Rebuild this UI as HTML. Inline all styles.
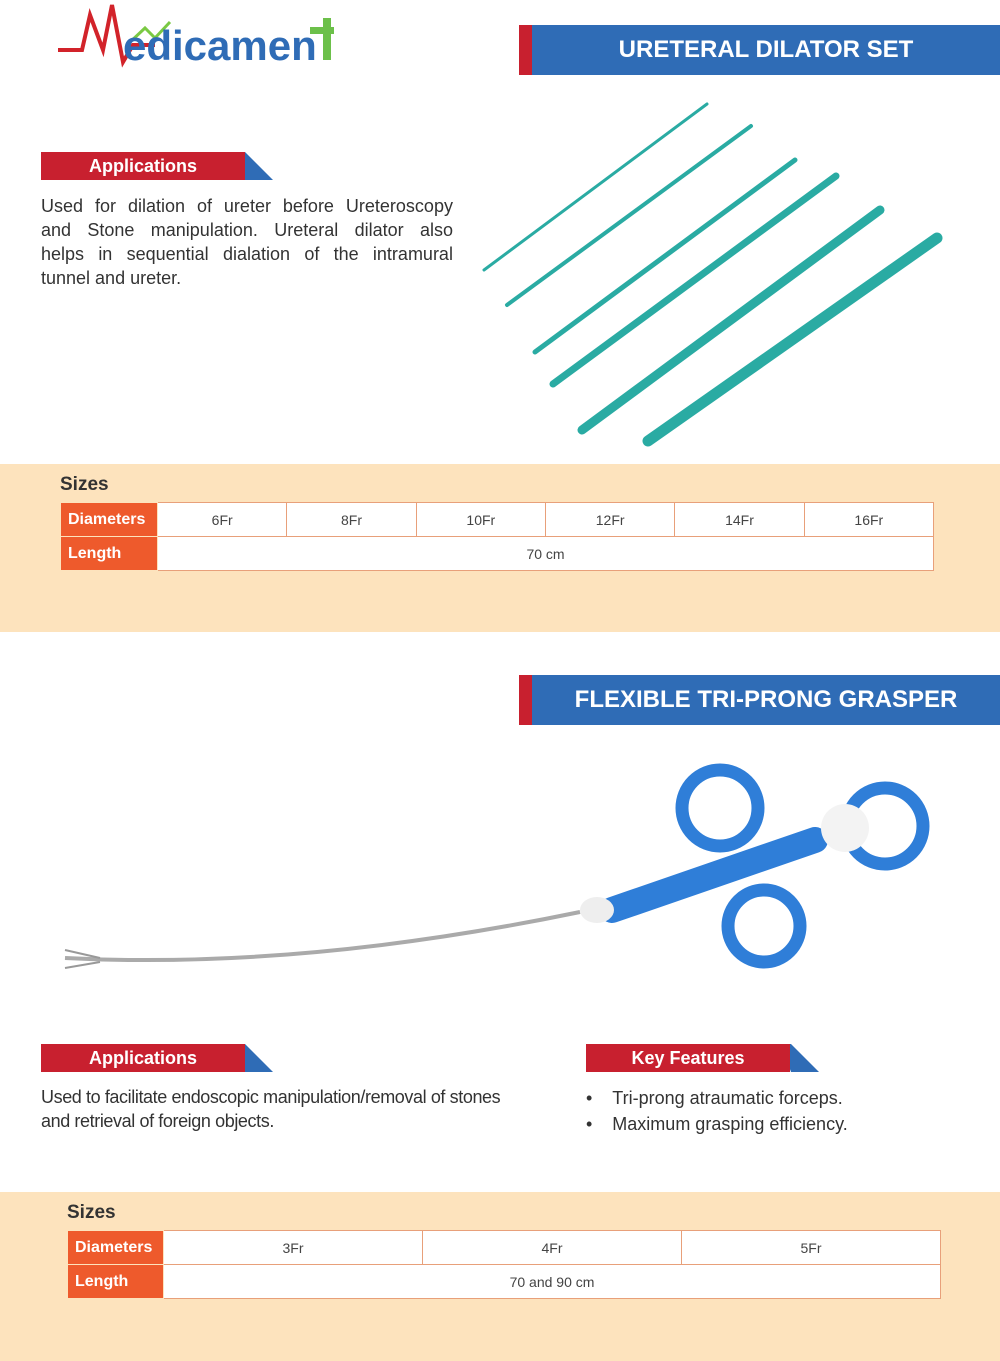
<!DOCTYPE html>
<html><head><meta charset="utf-8"><style>
body{margin:0;width:1000px;height:1361px;position:relative;background:#fff;font-family:"Liberation Sans",sans-serif;overflow:hidden}
.abs{position:absolute}
.hdr{position:absolute;left:519px;width:481px;height:50px;background:#2f6cb6;border-left:13px solid #c8202f;box-sizing:border-box;color:#fff;font-weight:bold;font-size:24px;line-height:50px;text-align:center}
.tag{position:absolute;height:28px}
.tag .r{position:absolute;left:0;top:0;height:28px;background:#c8202f;color:#fff;font-weight:bold;font-size:18px;line-height:28px;text-align:center}
.band{position:absolute;left:0;width:1000px;background:#fde3bd}
table{position:absolute;border-collapse:collapse;font-size:14px;color:#444;table-layout:fixed}
td{border:1px solid #e8a07a;background:#fff;text-align:center;height:33px;padding:0}
td.l{background:#ee5a2c;color:#fff;font-weight:bold;font-size:16px;text-align:left;padding-left:7px;border-color:#fde3bd}
.p{position:absolute;font-size:18px;color:#333;line-height:24px}
.j{text-align:justify;text-align-last:justify;white-space:nowrap}
.j span{white-space:normal}
</style></head><body>
<div class="abs" style="left:55px;top:0;width:290px;height:70px">
<svg width="290" height="70"><polyline points="3,50 27,50 35,15 48,50 57,5 68,62 78,45 100,45" fill="none" stroke="#d2232a" stroke-width="4"/><polyline points="72,45 90,28 100,38 115,22" fill="none" stroke="#7ac943" stroke-width="3"/>
<text x="68" y="60" font-family="Liberation Sans" font-weight="bold" font-size="42" fill="#2f6cb6">edicamen</text><rect x="268" y="18" width="8" height="42" fill="#6cc04a"/><rect x="255" y="27" width="24" height="7" fill="#6cc04a"/></svg></div>
<div class="hdr" style="top:25px">URETERAL DILATOR SET</div>
<div class="tag" style="left:41px;top:152px"><svg class="abs" width="235" height="28"><polygon points="195,0 245,0 273,28 205,28" fill="#2f6cb6" transform="translate(-41,0)"/></svg><div class="r" style="width:204px">Applications</div></div>
<div class="p" style="left:41px;top:194px;width:412px">
<div class="j" style="display:flex;justify-content:space-between"><span>Used</span><span>for</span><span>dilation</span><span>of</span><span>ureter</span><span>before</span><span>Ureteroscopy</span></div>
<div style="display:flex;justify-content:space-between"><span>and</span><span>Stone</span><span>manipulation.</span><span>Ureteral</span><span>dilator</span><span>also</span></div>
<div style="display:flex;justify-content:space-between"><span>helps</span><span>in</span><span>sequential</span><span>dialation</span><span>of</span><span>the</span><span>intramural</span></div>
<div>tunnel and ureter.</div></div>
<svg class="abs" style="left:0;top:0" width="1000" height="460">
<g stroke="#2aaba3" stroke-linecap="round">
<line x1="484" y1="270" x2="707" y2="104" stroke-width="3"/>
<line x1="507" y1="305" x2="751" y2="126" stroke-width="4"/>
<line x1="535" y1="352" x2="795" y2="160" stroke-width="5"/>
<line x1="553" y1="384" x2="836" y2="176" stroke-width="7"/>
<line x1="582" y1="430" x2="880" y2="210" stroke-width="9"/>
<line x1="648" y1="441" x2="937" y2="238" stroke-width="11"/></g></svg>
<div class="band" style="top:464px;height:168px"></div>
<div class="abs" style="left:60px;top:474px;font-size:19px;font-weight:bold;color:#333">Sizes</div>
<table style="left:60px;top:502px;width:874px">
<colgroup><col style="width:97px"><col><col><col><col><col><col></colgroup>
<tr><td class="l">Diameters</td><td>6Fr</td><td>8Fr</td><td>10Fr</td><td>12Fr</td><td>14Fr</td><td>16Fr</td></tr>
<tr><td class="l">Length</td><td colspan="6">70 cm</td></tr></table>
<div class="hdr" style="top:675px">FLEXIBLE TRI-PRONG GRASPER</div>
<svg class="abs" style="left:0;top:740px" width="1000" height="260">
<path d="M65,218 Q300,230 580,172" fill="none" stroke="#aaa" stroke-width="4"/>
<path d="M65,210 L100,218 M65,228 L100,222" stroke="#999" stroke-width="2"/>
<line x1="612" y1="170" x2="815" y2="100" stroke="#2f7ed8" stroke-width="26" stroke-linecap="round"/>
<g fill="none" stroke="#2f7ed8" stroke-width="13"><circle cx="720" cy="68" r="38"/><circle cx="764" cy="186" r="36"/><circle cx="885" cy="86" r="38"/></g>
<ellipse cx="597" cy="170" rx="17" ry="13" fill="#eee"/><circle cx="845" cy="88" r="24" fill="#f3f3f3"/></svg>
<div class="tag" style="left:41px;top:1044px"><svg class="abs" width="235" height="28"><polygon points="195,0 245,0 273,28 205,28" fill="#2f6cb6" transform="translate(-41,0)"/></svg><div class="r" style="width:204px">Applications</div></div>
<div class="tag" style="left:586px;top:1044px"><svg class="abs" width="235" height="28"><polygon points="195,0 205,0 233,28 205,28" fill="#2f6cb6"/></svg><div class="r" style="width:204px">Key Features</div></div>
<div class="p" style="left:41px;top:1085px;width:540px;letter-spacing:-0.4px">Used to facilitate endoscopic manipulation/removal of stones<br>and retrieval of foreign objects.</div>
<div class="p" style="left:586px;top:1085px;line-height:26px">•&nbsp;&nbsp;&nbsp;&nbsp;Tri-prong atraumatic forceps.<br>•&nbsp;&nbsp;&nbsp;&nbsp;Maximum grasping efficiency.</div>
<div class="band" style="top:1192px;height:169px"></div>
<div class="abs" style="left:67px;top:1202px;font-size:19px;font-weight:bold;color:#333">Sizes</div>
<table style="left:67px;top:1230px;width:874px">
<colgroup><col style="width:96px"><col><col><col></colgroup>
<tr><td class="l">Diameters</td><td>3Fr</td><td>4Fr</td><td>5Fr</td></tr>
<tr><td class="l">Length</td><td colspan="3">70 and 90 cm</td></tr></table>
</body></html>
